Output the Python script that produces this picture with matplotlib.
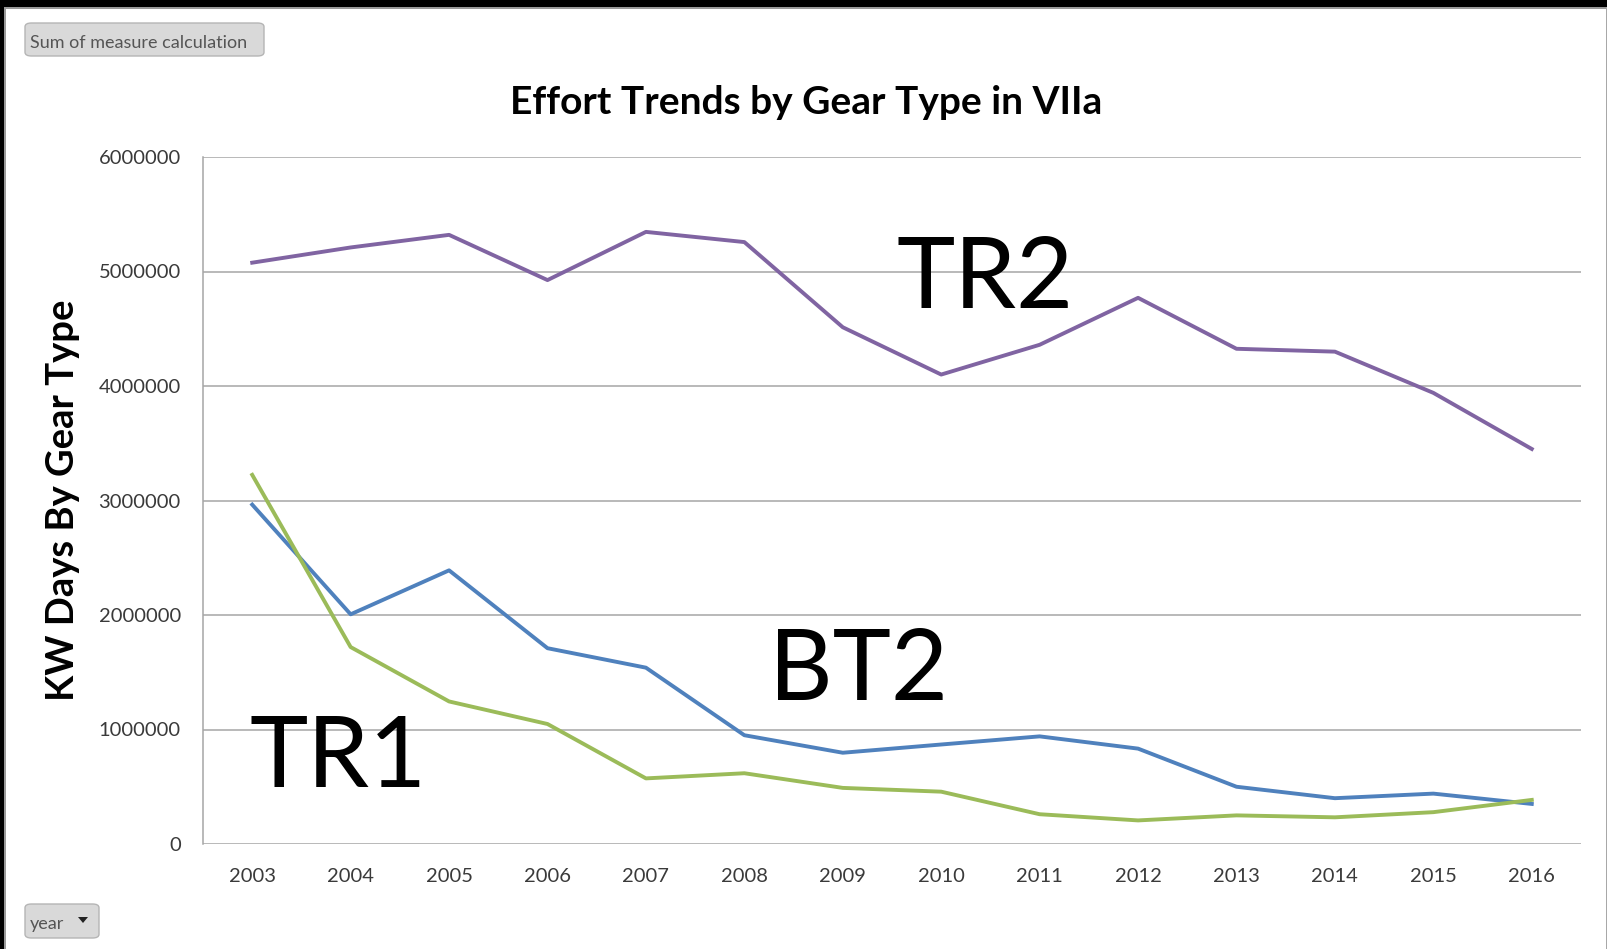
import matplotlib
matplotlib.use("Agg")
import matplotlib.pyplot as plt
from matplotlib.patches import FancyBboxPatch, Rectangle, Polygon

years = ["2003", "2004", "2005", "2006", "2007", "2008", "2009",
         "2010", "2011", "2012", "2013", "2014", "2015", "2016"]
tr2 = [5077000, 5210000, 5320000, 4925000, 5346000, 5257000, 4513000,
       4100000, 4360000, 4770000, 4325000, 4300000, 3940000, 3450000]
bt2 = [2964000, 2006000, 2390000, 1710000, 1540000, 950000, 797000,
       869000, 940000, 833000, 500000, 400000, 440000, 350000]
tr1 = [3224000, 1720000, 1245000, 1048000, 573000, 618000, 490000,
       457000, 260000, 206000, 250000, 233000, 278000, 385000]
yticks = [0, 1000000, 2000000, 3000000, 4000000, 5000000, 6000000]

FONT = ["Lato", "DejaVu Sans"]
plt.rcParams["font.family"] = FONT

W, H = 1608, 949
fig = plt.figure(figsize=(W / 100, H / 100), dpi=100)
fig.patch.set_facecolor("white")

# frame of the screenshot
fig.add_artist(Rectangle((0, 1 - 7 / H), 1, 7 / H, transform=fig.transFigure,
                         facecolor="black", edgecolor="none", zorder=10))
fig.add_artist(Rectangle((0, 1 - 9 / H), 1, 2 / H, transform=fig.transFigure,
                         facecolor="#9a9a9a", edgecolor="none", zorder=10))
fig.add_artist(Rectangle((0, 0), 4 / W, 1, transform=fig.transFigure,
                         facecolor="black", edgecolor="none", zorder=10))
fig.add_artist(Rectangle((4 / W, 0), 2 / W, 1 - 7 / H, transform=fig.transFigure,
                         facecolor="#9a9a9a", edgecolor="none", zorder=10))
fig.add_artist(Rectangle((1 - 2 / W, 0), 2 / W, 1 - 7 / H, transform=fig.transFigure,
                         facecolor="#a8a8a8", edgecolor="none", zorder=10))

ax = fig.add_axes([203 / W, 1 - 844 / H, (1581 - 203) / W, (844 - 157) / H])
x = list(range(len(years)))
ax.plot(x, tr2, color="#8064A2", lw=2.8, solid_joinstyle="round")
ax.plot(x, bt2, color="#4F81BD", lw=2.8, solid_joinstyle="round")
ax.plot(x, tr1, color="#9BBB59", lw=2.8, solid_joinstyle="round")

ax.set_xlim(-0.5, len(years) - 0.5)
ax.set_ylim(0, 6000000)
ax.set_yticks(yticks)
ax.set_yticklabels([str(v) for v in yticks])
ax.set_xticks(x)
ax.set_xticklabels(years)
ax.tick_params(axis="both", length=0, labelsize=14.5, labelcolor="#3a3a3a")
ax.tick_params(axis="y", pad=16)
ax.tick_params(axis="x", pad=17)
ax.yaxis.grid(True, color="#a6a6a6", lw=1.1)
ax.set_axisbelow(True)
for s in ["top", "right", "bottom"]:
    ax.spines[s].set_visible(False)
ax.spines["left"].set_color("#a6a6a6")
ax.spines["left"].set_linewidth(1.1)

ax.set_ylabel("KW Days By Gear Type", fontsize=27.5, fontweight="bold",
              color="black")
ax.yaxis.set_label_coords(-0.089, 0.5)

fig.text(806 / W, 1 - 102 / H, "Effort Trends by Gear Type in VIIa",
         ha="center", va="center", fontsize=28, fontweight="bold", color="black")

big = dict(fontsize=71, color="black", va="baseline", ha="left")
fig.text(897 / W, 1 - 308 / H, "TR2", **big)
fig.text(769 / W, 1 - 700 / H, "BT2", **big)
fig.text(250 / W, 1 - 787 / H, "TR1", **big)

# pivot-chart buttons
def button(x0, y0, x1, y1, label, arrow=False):
    b = FancyBboxPatch((x0 / W, 1 - y1 / H), (x1 - x0) / W, (y1 - y0) / H,
                       boxstyle="round,pad=0,rounding_size=0.004",
                       transform=fig.transFigure, facecolor="#d9d9d9",
                       edgecolor="#b5b5b5", lw=1, zorder=5)
    fig.add_artist(b)
    fig.text((x0 + 5) / W, 1 - ((y0 + y1) / 2 + 3) / H, label, ha="left", va="center",
             fontsize=13, color="#555555", zorder=6)
    if arrow:
        cx, cy = x1 - 16, (y0 + y1) / 2 - 2
        tri = Polygon([((cx - 5) / W, 1 - (cy - 2) / H), ((cx + 5) / W, 1 - (cy - 2) / H),
                       (cx / W, 1 - (cy + 4) / H)], closed=True,
                      transform=fig.transFigure, facecolor="#222222",
                      edgecolor="none", zorder=6)
        fig.add_artist(tri)

button(25, 23, 264, 56, "Sum of measure calculation")
button(25, 904, 99, 938, "year", arrow=True)

fig.savefig("out.png", dpi=100, facecolor="white")
